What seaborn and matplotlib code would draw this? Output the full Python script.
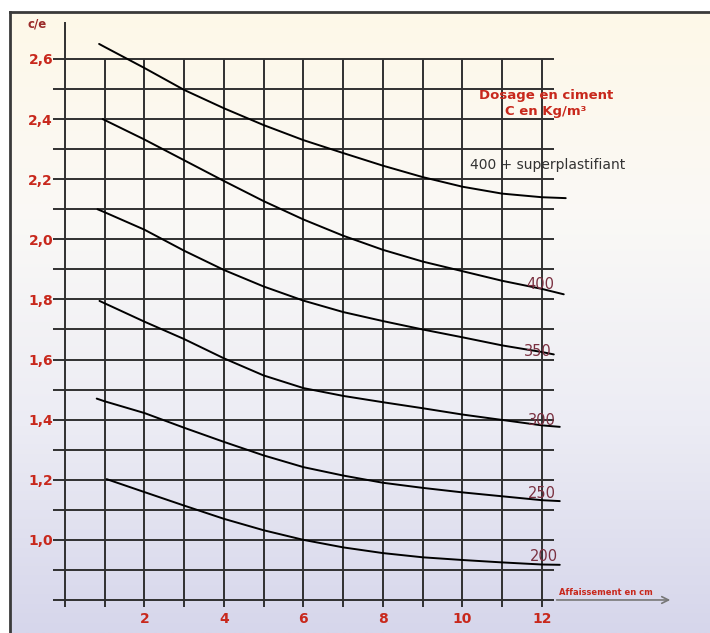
import numpy as np
import pandas as pd
import matplotlib
matplotlib.use("Agg")
import matplotlib.pyplot as plt
import seaborn as sns
from matplotlib.colors import LinearSegmentedColormap

sns.set_theme(style="white")
plt.rcParams['font.family'] = ['DejaVu Sans']

# slump (cm) vs c/e for each cement dosage
x_sp = [0.86, 1, 2, 3, 4, 5, 6, 7, 8, 9, 10, 11, 12, 12.6]
y_sp = [2.65, 2.64, 2.57, 2.497, 2.436, 2.38, 2.33, 2.287, 2.245, 2.207, 2.175, 2.152, 2.14, 2.137]

x_400 = [0.95, 2, 3, 4, 5, 6, 7, 8, 9, 10, 11, 12, 12.55]
y_400 = [2.40, 2.332, 2.263, 2.194, 2.127, 2.066, 2.012, 1.965, 1.926, 1.894, 1.862, 1.835, 1.817]

x_350 = [0.82, 1, 2, 3, 4, 5, 6, 7, 8, 9, 10, 11, 12, 12.3]
y_350 = [2.10, 2.09, 2.032, 1.962, 1.898, 1.843, 1.796, 1.758, 1.728, 1.70, 1.674, 1.647, 1.625, 1.617]

x_300 = [0.87, 2, 3, 4, 5, 6, 7, 8, 9, 10, 11, 12, 12.45]
y_300 = [1.795, 1.726, 1.668, 1.604, 1.547, 1.505, 1.479, 1.458, 1.438, 1.417, 1.399, 1.381, 1.376]

x_250 = [0.8, 1, 2, 3, 4, 5, 6, 7, 8, 9, 10, 11, 12, 12.45]
y_250 = [1.47, 1.461, 1.422, 1.373, 1.326, 1.281, 1.242, 1.214, 1.19, 1.173, 1.158, 1.145, 1.132, 1.129]

x_200 = [1.05, 2, 3, 4, 5, 6, 7, 8, 9, 10, 11, 12, 12.45]
y_200 = [1.202, 1.159, 1.114, 1.07, 1.032, 1.0, 0.975, 0.956, 0.942, 0.933, 0.925, 0.918, 0.917]

series = {"400 + superplastifiant": (x_sp, y_sp), "400": (x_400, y_400), "350": (x_350, y_350),
          "300": (x_300, y_300), "250": (x_250, y_250), "200": (x_200, y_200)}

# curve label positions (x, y) in data units
label_pos = {"400": (11.95, 1.85), "350": (11.9, 1.626), "300": (12.0, 1.397),
             "250": (12.0, 1.153), "200": (12.05, 0.944)}

x_ticks = [2, 4, 6, 8, 10, 12]
y_ticks = [1.0, 1.2, 1.4, 1.6, 1.8, 2.0, 2.2, 2.4, 2.6]

rows = []
for name, (xs, ys) in series.items():
    for xv, yv in zip(xs, ys):
        rows.append({"dosage": name, "affaissement": xv, "ce": yv})
df = pd.DataFrame(rows)

W, H = 710, 633
fig = plt.figure(figsize=(W / 100, H / 100), dpi=100)
fig.patch.set_facecolor("white")

# gradient background frame
bg = fig.add_axes([10 / W, 0, 1 - 10 / W, 1 - 12 / H])
cmap = LinearSegmentedColormap.from_list("bg", ["#fef8e8", "#faf9f6", "#ececf4", "#d6d6eb"])
bg.imshow(np.linspace(0, 1, 256).reshape(-1, 1), aspect="auto", cmap=cmap, extent=[0, 1, 0, 1], origin="upper")
bg.set_xticks([]); bg.set_yticks([])
for s in ["right", "bottom"]:
    bg.spines[s].set_visible(False)
for s in ["top", "left"]:
    bg.spines[s].set_color("#3a3a3a")
    bg.spines[s].set_linewidth(2)

ax = fig.add_axes([53 / W, 1 - 612 / H, (681 - 53) / W, (612 - 22) / H])
ax.patch.set_alpha(0)
ax.set_xlim(-0.3, 15.5)
ax.set_ylim(0.76, 2.723)
for s in ax.spines.values():
    s.set_visible(False)

grid_c = "#303030"
ax.hlines(np.arange(0.8, 2.65, 0.1), -0.3, 12.3, color=grid_c, lw=1.4, zorder=1)
ax.vlines(np.arange(1, 13), 0.775, 2.6, color=grid_c, lw=1.4, zorder=1)
ax.vlines(0, 0.775, 2.723, color=grid_c, lw=1.4, zorder=1)
ax.annotate("", xy=(15.3, 0.8), xytext=(12.3, 0.8),
            arrowprops=dict(arrowstyle="->", color="#777777", lw=1.2))

sns.lineplot(data=df, x="affaissement", y="ce", hue="dosage", palette=["black"] * 6,
             estimator=None, sort=False, legend=False, lw=1.4, ax=ax, zorder=3)

red = "#c8281c"
ax.set_xticks(x_ticks)
ax.set_xticklabels([str(v) for v in x_ticks], color=red, fontweight="bold", fontsize=10)
ax.set_yticks(y_ticks)
ax.set_yticklabels([f"{v:.1f}".replace(".", ",") for v in y_ticks], color=red, fontweight="bold", fontsize=10)
ax.tick_params(axis="both", length=0)
ax.tick_params(axis="x", pad=0)
ax.tick_params(axis="y", pad=0)
ax.set_xlabel(""); ax.set_ylabel("")

ax.text(-0.7, 2.715, "c/e", color="#9a2a28", fontweight="bold", fontsize=8.5, ha="center", va="center")
ax.text(13.6, 0.825, "Affaissement en cm", color=red, fontweight="bold", fontsize=6, ha="center", va="center")

ax.text(12.1, 2.478, "Dosage en ciment", color=red, fontweight="bold", fontsize=9.5, ha="center", va="center")
ax.text(12.1, 2.425, "C en Kg/m³", color=red, fontweight="bold", fontsize=9.5, ha="center", va="center")
ax.text(10.2, 2.246, "400 + superplastifiant", color="#333333", fontsize=10, ha="left", va="center")

for name, (lx, ly) in label_pos.items():
    ax.text(lx, ly, name, color="#7a3040", fontsize=10.5, ha="center", va="center")

fig.savefig("out.png", dpi=100)
